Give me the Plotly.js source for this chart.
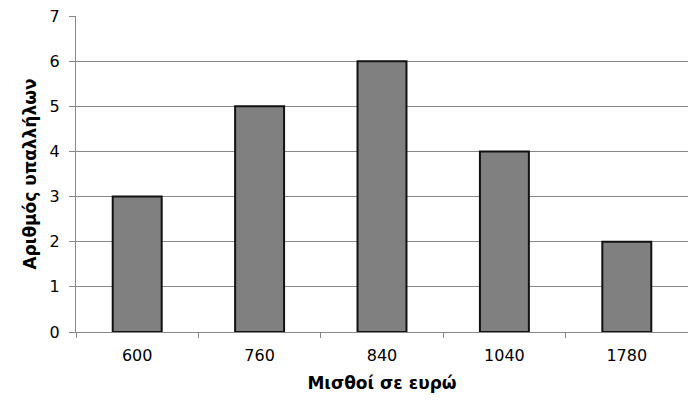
<!DOCTYPE html>
<html><head><meta charset="utf-8">
<script src="https://cdn.plot.ly/plotly-3.0.1.min.js"></script>
<style>html,body{margin:0;padding:0;background:#fff}#c{width:688px;height:407px}</style>
</head><body><div id="c"></div>
<script>
const salaries = ["600", "760", "840", "1040", "1780"];
const employees = [3, 5, 6, 4, 2];
const yTicks = [0, 1, 2, 3, 4, 5, 6, 7];

const trace = {
  type: "bar",
  x: salaries,
  y: employees,
  marker: {color: "#808080", line: {color: "#111111", width: 2}},
  hoverinfo: "x+y"
};
const layout = {
  width: 688, height: 407,
  margin: {l: 76, r: 0, t: 16, b: 75},
  paper_bgcolor: "#ffffff", plot_bgcolor: "#ffffff",
  bargap: 0.6,
  showlegend: false,
  font: {family: "DejaVu Sans, sans-serif", color: "#000", size: 16},
  xaxis: {
    type: "category",
    tickson: "boundaries",
    ticks: "outside", ticklen: 5, tickcolor: "#888", tickwidth: 1,
    ticklabelstandoff: 9,
    showline: true, linecolor: "#888", linewidth: 1,
    showgrid: false,
    tickfont: {size: 16},
    title: {text: "<b>Μισθοί σε ευρώ</b>", font: {size: 17}, standoff: 12}
  },
  yaxis: {
    range: [0, 7],
    tickvals: yTicks,
    ticks: "outside", ticklen: 6, tickcolor: "#888", tickwidth: 1,
    ticklabelstandoff: 6,
    showline: true, linecolor: "#888", linewidth: 1,
    showgrid: true, gridcolor: "#888", gridwidth: 1,
    zeroline: false,
    tickfont: {size: 16},
    title: {text: "<b>Αριθμός υπαλλήλων</b>", font: {size: 17}, standoff: 8}
  }
};
Plotly.newPlot("c", [trace], layout, {staticPlot: true});
</script></body></html>
